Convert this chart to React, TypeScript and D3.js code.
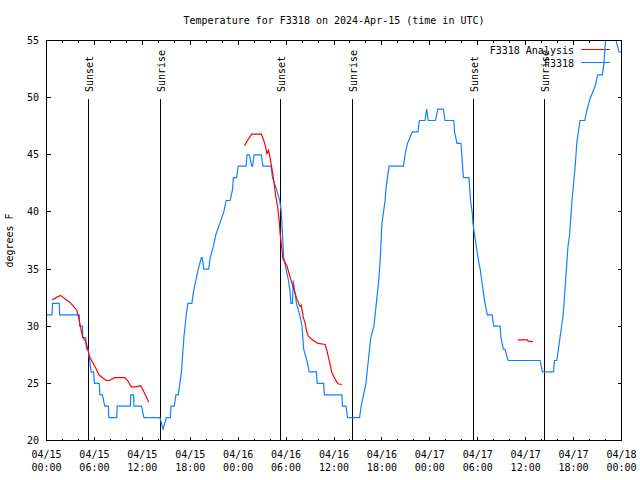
import React from "react";
import * as d3 from "d3";

const WIDTH = 640;
const HEIGHT = 480;

const titleText = "Temperature for F3318 on 2024-Apr-15 (time in UTC)";
const yAxisLabel = "degrees F";
const yTickValues = [20, 25, 30, 35, 40, 45, 50, 55];
const xTickHours = [0, 6, 12, 18, 24, 30, 36, 42, 48, 54, 60, 66, 72];
const xTickDates = ["04/15", "04/15", "04/15", "04/15", "04/16", "04/16", "04/16", "04/16", "04/17", "04/17", "04/17", "04/17", "04/18"];
const xTickTimes = ["00:00", "06:00", "12:00", "18:00", "00:00", "06:00", "12:00", "18:00", "00:00", "06:00", "12:00", "18:00", "00:00"];

const sunLabels = ["Sunset", "Sunrise", "Sunset", "Sunrise", "Sunset", "Sunrise"];
const sunHours = [5.18, 14.2, 29.27, 38.2, 53.37, 62.3];

const legendNames = ["F3318 Analysis", "F3318"];

// Observed series (F3318), hours since 04/15 00:00 UTC
const obsHours = [
  0, 0.7, 0.75, 1.6, 1.65, 4.1, 4.15, 4.5, 4.55, 4.9, 5.0, 5.2, 5.4, 5.6, 5.9, 6.0, 6.6, 6.7, 7.0, 7.3, 7.75, 7.8, 8.8, 8.85,
  10.5, 10.55, 10.9, 10.95, 11.9, 12.2, 14.2, 14.6, 15.0, 15.5, 15.6, 16.0, 16.2, 16.5, 16.7, 16.9, 17.0, 17.1, 17.2, 17.35,
  17.5, 17.7, 18.2, 18.4, 18.7, 19.0, 19.4, 19.5, 19.7, 20.3, 20.5, 20.9, 21.2, 21.7, 22.2, 22.5, 23.0, 23.3, 23.4, 23.8,
  24.0, 25.0, 25.1, 25.4, 25.7, 25.8, 26.0, 26.9, 27.1, 28.1, 28.3, 28.8, 29.2, 29.4, 29.55, 29.7, 30.0, 30.3, 30.5, 30.6,
  30.8, 30.9, 31.1, 31.3, 31.7, 32.0, 32.1, 32.2, 32.6, 32.9, 33.8, 33.9, 34.7, 34.8, 37.0, 37.05, 37.5, 37.7, 39.2, 39.4,
  39.7, 40.0, 40.3, 40.6, 41.0, 41.3, 41.6, 41.8, 42.0, 42.4, 42.5, 42.7, 42.9, 44.7, 44.9, 45.2, 45.8, 46.5, 46.7, 47.4,
  47.6, 47.8, 48.1, 48.7, 49.0, 49.7, 49.9, 51.0, 51.1, 51.4, 51.9, 52.0, 52.2, 52.9, 53.0, 53.1, 53.3, 53.4, 53.6, 53.9,
  54.1, 54.3, 54.5, 54.7, 54.9, 55.2, 55.8, 56.0, 56.8, 56.9, 57.2, 57.4, 57.8, 61.8, 62.1, 63.5, 63.6, 63.9, 64.1, 64.3,
  64.5, 64.7, 64.9, 65.0, 65.2, 65.3, 65.5, 65.8, 66.2, 66.4, 66.6, 66.8, 67.4, 67.7, 68.1, 68.7, 69.0, 69.6, 69.8, 70.0,
  70.5, 70.9, 71.3, 71.7, 72.0,
];
const obsTemps = [
  31, 31, 32, 32, 31, 31, 30, 30, 29, 29, 28, 28, 27, 26, 26, 25, 25, 24, 24, 23, 23, 22, 22, 23,
  23, 24, 24, 23, 23, 22, 22, 21, 22, 22, 23, 23, 24, 24, 25, 26, 27, 28, 29, 30,
  31, 32, 32, 33, 34, 35, 36, 36, 35, 35, 36, 37, 38, 39, 40, 41, 41, 42, 43, 43,
  44, 44, 45, 45, 44, 44, 45, 45, 44, 44, 43, 42, 41, 40, 38, 36, 35, 34, 33, 32,
  32, 34, 33, 32, 31, 30, 29, 28, 27, 26, 26, 25, 25, 24, 24, 23, 23, 22, 22, 23,
  24, 25, 27, 29, 30, 32, 34, 36, 39, 41, 42, 43, 44, 44, 45, 46, 47, 47, 48, 48,
  49, 48, 48, 48, 49, 49, 48, 48, 47, 46, 46, 45, 43, 43, 42, 41, 40, 39, 38, 36.6,
  35.7, 35, 34, 33, 32, 31, 31, 30, 30, 29, 28, 28, 27, 27, 26, 26, 27, 27, 28, 29,
  30, 31, 33, 34, 36, 37, 38, 41, 44, 46, 47, 48, 48, 49, 50, 51, 52, 52, 53, 55,
  57, 57, 55, 54, 54,
];

// Analysis series (F3318 Analysis); null marks a gap
const anaHours = [
  0.7, 1.2, 1.76, 2.3, 2.9, 3.3, 3.8, 4.1, 4.35, 4.55, 4.9, 5.1, 5.4, 5.8, 6.2, 6.6, 7.5, 7.9, 8.5, 9.8, 10.2, 10.6, 11.2,
  11.8, 12.1, 12.5, 12.8, 18,
  24.8, 25.3, 25.7, 26.9, 27.2, 27.4, 27.6, 27.8, 27.9, 28.1, 28.3, 28.5, 28.7, 28.95, 29.15, 29.25, 29.45, 29.6, 30.1,
  30.5, 30.9, 31.3, 31.7, 31.85, 31.9, 32.15, 32.4, 32.6, 32.8, 33.4, 34.0, 34.9, 35.1, 35.3, 35.5, 35.7, 35.9, 36.2,
  36.5, 37.0, 45,
  59.0, 60.2, 60.3, 60.9,
];
const anaTemps = [
  32.3, 32.5, 32.7, 32.4, 32.1, 31.8, 31.4, 30.5, 29.6, 29.0, 28.7, 28.2, 27.3, 26.8, 26.3, 25.7, 25.25, 25.25, 25.5, 25.5, 25.2, 24.7, 24.7,
  24.8, 24.4, 23.8, 23.35, null,
  45.8, 46.4, 46.8, 46.8, 46.25, 45.8, 45.1, 45.4, 45.1, 44.3, 43.5, 42.5, 41.4, 40.4, 39.2, 38.1, 36.9, 35.9, 35.3,
  34.3, 33.4, 32.5, 31.8, 31.7, 31.8, 30.8, 30.2, 29.5, 29.1, 28.75, 28.5, 28.4, 27.9, 27.3, 26.7, 26.0, 25.7, 25.3,
  24.96, 24.9, null,
  28.8, 28.8, 28.7, 28.65,
];

const RED = "#ff0000";
const BLUE = "#1180ff";
const FONT = "'DejaVu Sans Mono', 'Liberation Mono', monospace";

export default function App() {
  const left = 46.5;
  const right = 621.5;
  const top = 40.5;
  const bottom = 440.5;

  const x = d3.scaleLinear().domain([0, 72]).range([left, right]);
  const y = d3.scaleLinear().domain([20, 55]).range([bottom, top]);

  type P = { t: number; v: number | null };
  const obs: P[] = obsHours.map((t, i) => ({ t, v: obsTemps[i] }));
  const ana: P[] = anaHours.map((t, i) => ({ t, v: anaTemps[i] }));

  const line = d3
    .line<P>()
    .defined((d) => d.v != null)
    .x((d) => x(d.t))
    .y((d) => y(d.v as number));

  const minorHours = d3.range(0, 73, 2);

  return (
    <svg width={WIDTH} height={HEIGHT} style={{ display: "block", position: "absolute", left: 0, top: 0, background: "#fff" }} fontFamily={FONT} fontSize={10}>
      <rect x={0} y={0} width={WIDTH} height={HEIGHT} fill="#fff" />
      <defs>
        <clipPath id="plotclip">
          <rect x={left} y={top} width={right - left} height={bottom - top} />
        </clipPath>
      </defs>

      <text x={(left + right) / 2} y={24} textAnchor="middle" fill="#000">
        {titleText}
      </text>

      {/* ticks */}
      <g stroke="#000" strokeWidth={1} shapeRendering="crispEdges">
        {minorHours.map((h) => {
          const len = h % 6 === 0 ? 4 : 2;
          return (
            <g key={"xt" + h}>
              <line x1={x(h)} x2={x(h)} y1={bottom} y2={bottom - len} />
              <line x1={x(h)} x2={x(h)} y1={top} y2={top + len} />
            </g>
          );
        })}
        {yTickValues.map((v) => (
          <g key={"yt" + v}>
            <line x1={left} x2={left + 4} y1={y(v)} y2={y(v)} />
            <line x1={right} x2={right - 4} y1={y(v)} y2={y(v)} />
          </g>
        ))}
      </g>

      {/* tick labels */}
      {yTickValues.map((v) => (
        <text key={"yl" + v} x={39} y={y(v) + 3.5} textAnchor="end" fill="#000">
          {v}
        </text>
      ))}
      {xTickHours.map((h, i) => (
        <g key={"xl" + h}>
          <text x={x(h)} y={458} textAnchor="middle" fill="#000">
            {xTickDates[i]}
          </text>
          <text x={x(h)} y={471} textAnchor="middle" fill="#000">
            {xTickTimes[i]}
          </text>
        </g>
      ))}

      <text transform={`translate(12.5,${(top + bottom) / 2}) rotate(-90)`} textAnchor="middle" fill="#000">
        {yAxisLabel}
      </text>

      {/* sunrise / sunset markers */}
      {sunHours.map((h, i) => (
        <g key={"sun" + i}>
          <line x1={Math.round(x(h)) + 0.5} x2={Math.round(x(h)) + 0.5} y1={99} y2={bottom} stroke="#000" strokeWidth={1} shapeRendering="crispEdges" />
          <text transform={`translate(${Math.round(x(h)) + 5},92) rotate(-90)`} textAnchor="start" fill="#000">
            {sunLabels[i]}
          </text>
        </g>
      ))}

      {/* legend */}
      <text x={574} y={53.5} textAnchor="end" fill="#000">
        {legendNames[0]}
      </text>
      <line x1={581} x2={610} y1={49.5} y2={49.5} stroke={RED} strokeWidth={1} shapeRendering="crispEdges" />
      <text x={574} y={66.5} textAnchor="end" fill="#000">
        {legendNames[1]}
      </text>
      <line x1={581} x2={610} y1={62.5} y2={62.5} stroke={BLUE} strokeWidth={1} shapeRendering="crispEdges" />

      {/* data */}
      <g clipPath="url(#plotclip)">
        <path d={line(obs) || ""} fill="none" stroke={BLUE} strokeWidth={1.2} />
        <path d={line(ana) || ""} fill="none" stroke={RED} strokeWidth={1.2} />
      </g>

      {/* border */}
      <rect x={left} y={top} width={right - left} height={bottom - top} fill="none" stroke="#000" strokeWidth={1} shapeRendering="crispEdges" />
    </svg>
  );
}
